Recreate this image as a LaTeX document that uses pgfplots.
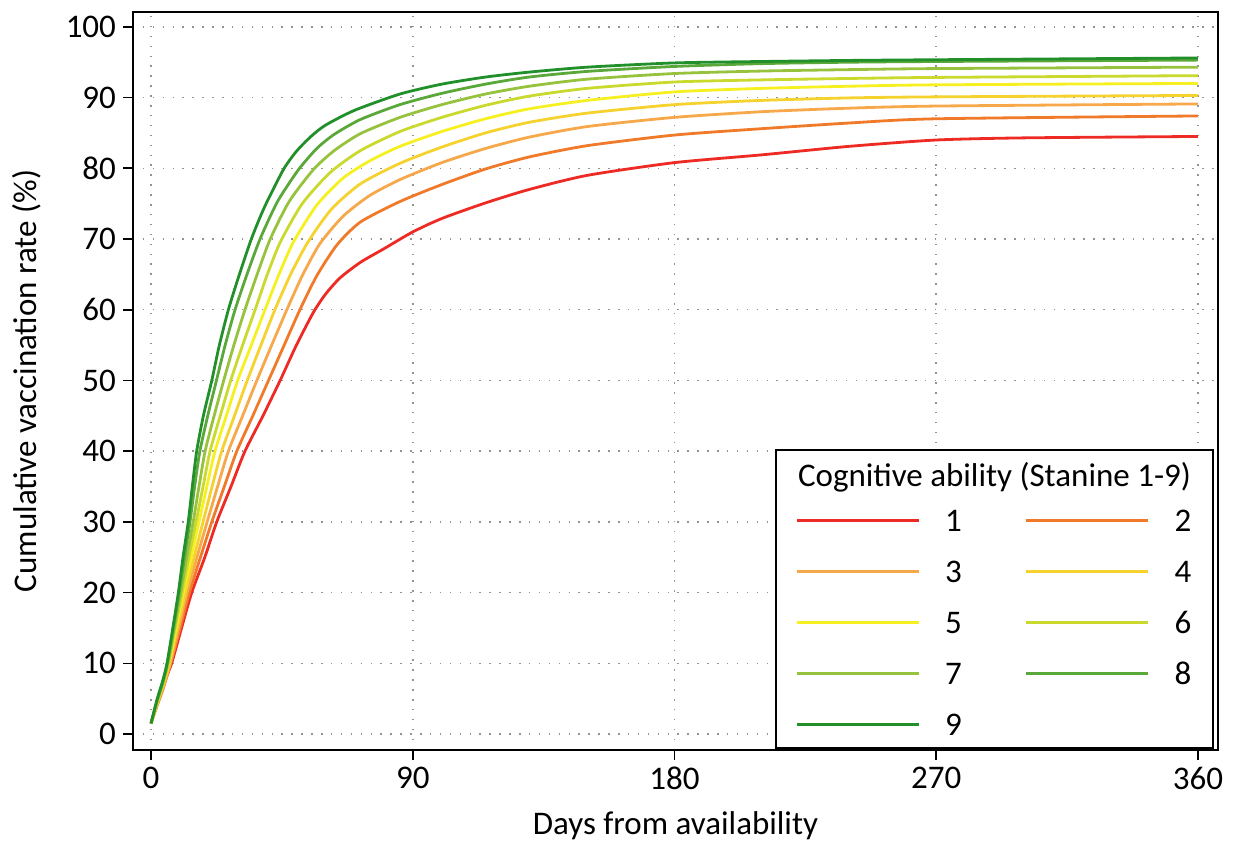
\documentclass[border=0pt]{standalone}
\usepackage{fontspec}
\setmainfont{Carlito}
\usepackage{pgfplots}
\pgfplotsset{compat=1.18}
\definecolor{c1}{RGB}{238,42,36}
\definecolor{c2}{RGB}{240,122,42}
\definecolor{c3}{RGB}{247,168,74}
\definecolor{c4}{RGB}{245,210,46}
\definecolor{c5}{RGB}{247,240,32}
\definecolor{c6}{RGB}{201,217,46}
\definecolor{c7}{RGB}{150,194,62}
\definecolor{c8}{RGB}{90,168,58}
\definecolor{c9}{RGB}{34,144,42}
\begin{document}
\begin{tikzpicture}[font=\fontsize{16.5}{19}\selectfont]
\begin{axis}[
  scale only axis, width=542.5pt, height=369pt,
  xmin=-6.2, xmax=366.9, ymin=-2.26, ymax=102.1,
  xtick={0,90,180,270,360}, ytick={0,10,...,100},
  tick align=outside, xtick pos=lower, ytick pos=left,
  major tick length=5pt,
  tick style={black, line width=0.8pt},
  axis line style={black, line width=1.3pt},
  grid=major,
  major grid style={gray!85, line width=0.75pt, dash pattern=on 0.75pt off 4.2pt},
  /pgf/number format/assume math mode=true,
  ticklabel style={font=\fontsize{16.5}{19}\selectfont},
  xlabel={Days from availability},
  ylabel={Cumulative vaccination rate (\%)},
  xlabel style={at={(axis description cs:0.5,-0.103)}, anchor=center},
  ylabel style={at={(axis description cs:-0.0977,0.5)}, anchor=center},
  every axis plot/.append style={line width=1.4pt, smooth, tension=0.4},
  legend columns=2,
  legend style={at={(0.610,0.3266)}, anchor=north west, draw=none, fill=none,
    inner sep=0pt,
    nodes={inner sep=0pt, text height=11pt, text depth=0pt},
    row sep=14.5pt,
    /tikz/every odd column/.style={column sep=12.5pt},
    /tikz/every even column/.style={column sep=31.5pt}},
  legend image code/.code={\draw[#1] (0pt,0pt) -- (61pt,0pt);},
]
\draw[line width=1pt, fill=white] (rel axis cs:0.593,0.003) rectangle (rel axis cs:0.995,0.407);
\node at (rel axis cs:0.794,0.370) {Cognitive ability (Stanine 1-9)};

\addplot[c1] coordinates {(0,1.5)(2.5,4.8)(5,7.8)(7.1,10)(10.5,15)(14,20)(18.5,25)(22.6,30)(27.5,35)(32.3,40)(38.5,45)(44.4,50)(50,55)(55.8,59.6)(60,62.2)(65,64.5)(72,66.7)(80,68.6)(90,71.0)(100,72.9)(115,75.1)(130,77.0)(150,79.0)(180,80.8)(210,81.9)(240,83.1)(270,84.0)(300,84.3)(360,84.5)};
\addlegendentry{1}
\addplot[c2] coordinates {(0,1.5)(2,3.9)(4,6.2)(6.8,10)(10,15)(13.2,20)(17,25)(20.9,30)(25.2,35)(29.5,40)(35,45)(40.4,50)(45.8,55)(51.2,60)(57,64.8)(64,69.2)(72,72.4)(85.6,75.3)(100,77.7)(115,79.9)(130,81.6)(150,83.2)(180,84.7)(210,85.6)(240,86.4)(270,87.0)(360,87.4)};
\addlegendentry{2}
\addplot[c3] coordinates {(0,1.5)(2,4.0)(4,6.4)(6.6,10)(9.5,15)(12.4,20)(15.8,25)(19.3,30)(22.9,35)(26.6,40)(31.5,45)(36.4,50)(41.5,55)(46.7,60)(52,64.8)(58,69.3)(66,73.2)(75,76.1)(85.6,78.4)(100,80.8)(115,82.8)(130,84.4)(150,85.9)(180,87.2)(210,88.0)(240,88.5)(270,88.8)(360,89.1)};
\addlegendentry{3}
\addplot[c4] coordinates {(0,1.5)(2,4.2)(4,6.7)(6.3,10)(9,15)(11.8,20)(14.8,25)(17.9,30)(21,35)(24.3,40)(28.7,45)(33.1,50)(37.8,55)(42.6,60)(48,65)(54,69.6)(62,74.2)(72,77.8)(85.6,80.7)(100,83.0)(115,85.0)(130,86.5)(150,87.8)(180,89.0)(210,89.6)(240,89.95)(270,90.1)(360,90.3)};
\addlegendentry{4}
\addplot[c5] coordinates {(0,1.5)(2,4.3)(4,6.9)(6.1,10)(8.6,15)(11.1,20)(13.8,25)(16.5,30)(19.2,35)(22,40)(25.9,45)(29.8,50)(34.5,55)(39.2,60)(44,65)(49,69.6)(57,74.8)(66,78.6)(75,81)(85.6,83.1)(100,85.2)(115,87.0)(130,88.4)(150,89.6)(180,90.8)(210,91.3)(240,91.6)(270,91.8)(360,92.0)};
\addlegendentry{5}
\addplot[c6] coordinates {(0,1.5)(2,4.4)(4,7)(6,10)(8.3,15)(10.7,20)(13,25)(15.5,30)(17.9,35)(20.3,40)(23.8,45)(27.4,50)(31.5,55)(35.8,60)(40,65)(44.5,69.6)(52,75)(61.6,79.4)(72,82.5)(85.6,85.2)(100,87.2)(115,88.9)(130,90.2)(150,91.3)(180,92.2)(210,92.5)(240,92.7)(270,92.85)(360,93.1)};
\addlegendentry{6}
\addplot[c7] coordinates {(0,1.5)(2,4.5)(4,7.1)(5.8,10)(8,15)(10.2,20)(12.3,25)(14.5,30)(16.5,35)(18.6,40)(21.7,45)(25,50)(28.5,55)(32.3,60)(36.5,65)(41,70)(47.5,75.3)(55.8,79.8)(63,82.5)(72,84.9)(85.6,87.2)(100,89.0)(115,90.5)(130,91.6)(150,92.6)(180,93.4)(210,93.75)(240,93.95)(270,94.1)(360,94.3)};
\addlegendentry{7}
\addplot[c8] coordinates {(0,1.5)(2,4.6)(4,7.3)(5.6,10)(7.7,15)(9.7,20)(11.5,25)(13.4,30)(15,35)(16.8,40)(19.5,45)(22.5,50)(25.5,55)(28.9,60)(33,65)(37.5,70)(43.5,75.3)(50.7,79.8)(57,82.8)(63,84.8)(72,86.9)(85.6,89.0)(100,90.6)(115,91.9)(130,92.9)(150,93.7)(180,94.4)(210,94.8)(240,95.0)(270,95.1)(360,95.3)};
\addlegendentry{8}
\addplot[c9] coordinates {(0,1.5)(2,4.8)(4,7.5)(5.5,10)(7.5,15)(9.4,20)(11,25)(12.8,30)(14.2,35)(15.7,40)(18,45)(20.9,50)(23.5,55)(26.6,60)(30,64.5)(34.5,70)(39,74.5)(45.5,79.8)(50,82.4)(55,84.5)(60,86.1)(70,88.2)(85.6,90.5)(100,91.9)(115,92.9)(130,93.6)(150,94.3)(180,94.9)(210,95.1)(240,95.25)(270,95.35)(360,95.6)};
\addlegendentry{9}
\end{axis}
\path ([shift={(-66.5pt,-48pt)}]current axis.south west) rectangle ([shift={(8.5pt,6pt)}]current axis.north east);
\end{tikzpicture}
\end{document}
